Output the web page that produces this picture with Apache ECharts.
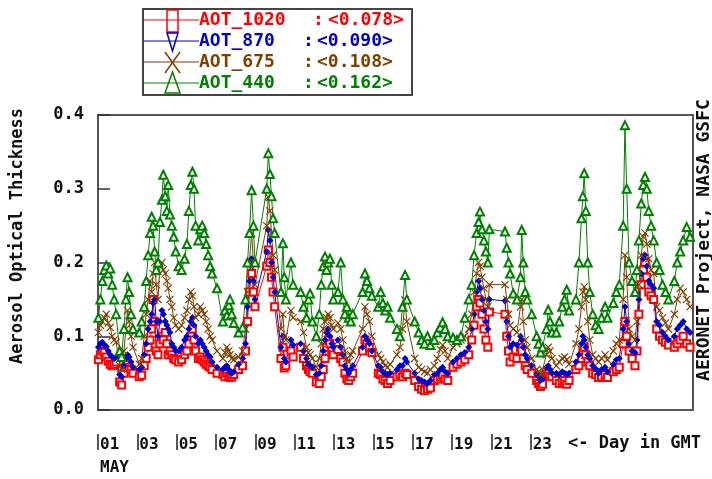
<!DOCTYPE html>
<html><head><meta charset="utf-8">
<script src="https://cdn.jsdelivr.net/npm/echarts@6/dist/echarts.min.js"></script>
<style>html,body{margin:0;padding:0;background:#fff}#c{width:712px;height:479px}</style>
</head><body><div id="c"></div>
<script>
// Days since 1 May 00:00 GMT
const days = [
0.02,0.12,0.22,0.32,0.42,0.52,0.62,0.72,0.82,0.92,
1.10,1.20,
1.32,1.42,1.50,1.58,1.68,1.78,
2.10,2.22,
2.35,2.45,2.55,2.65,2.73,2.80,2.88,2.96,
3.05,3.15,3.25,3.32,3.42,3.50,3.57,3.66,3.75,3.85,3.95,
4.10,4.25,4.40,
4.52,4.62,4.72,4.80,4.88,4.96,
5.10,5.20,5.30,5.40,5.50,5.60,5.70,5.80,
6.05,
6.35,6.45,6.55,6.65,6.71,6.80,6.90,
7.15,7.35,
7.50,7.60,7.70,7.81,7.90,7.98,
8.58,8.66,8.74,8.82,8.90,8.98,
9.30,9.40,9.47,9.55,
9.81,9.92,
10.30,10.45,10.60,10.70,10.78,10.90,
11.10,
11.25,11.35,11.45,11.54,11.62,11.70,11.79,11.88,11.96,
12.20,12.34,
12.45,12.55,12.65,12.75,12.85,12.95,
13.45,13.57,13.68,13.80,13.92,
14.25,14.37,14.48,14.60,14.72,14.85,
15.20,15.35,15.48,15.61,15.70,
16.10,16.30,16.45,16.60,16.75,16.90,
17.10,17.25,17.40,17.52,17.65,17.78,
18.05,18.25,18.45,18.65,18.85,
19.00,19.12,19.25,19.35,19.42,19.52,19.62,19.72,19.82,19.90,
20.69,20.78,20.87,20.95,
21.11,21.30,
21.48,21.54,21.62,21.72,21.82,
22.05,22.30,
22.40,22.50,22.60,
22.80,22.89,22.98,23.08,
23.30,23.45,23.60,23.72,23.83,23.95,
24.30,24.45,24.58,24.65,24.72,24.80,24.90,25.00,
25.15,25.30,25.45,25.60,25.78,25.90,
26.20,26.35,26.50,
26.70,26.79,26.88,
27.00,27.15,27.30,27.40,
27.50,27.62,27.72,27.81,27.90,28.00,28.12,28.25,
28.40,28.55,28.70,28.85,29.00,
29.30,29.45,29.60,29.75,29.93,30.10
];
const aot440 = [
.125,.150,.175,.190,.196,.185,.192,.170,.150,.130,
.080,.072,
.110,.150,.180,.160,.130,.110,
.105,.120,
.140,.175,.210,.240,.262,.250,.215,.190,
.200,.255,.285,.319,.290,.270,.305,.265,.250,.235,.215,
.195,.190,.205,
.225,.270,.305,.323,.300,.250,
.230,.245,.250,.240,.225,.210,.195,.185,
.165,
.120,.135,.128,.142,.150,.130,.118,
.105,.112,
.150,.200,.240,.298,.250,.200,
.300,.348,.320,.290,.260,.240,
.160,.226,.180,.150,
.200,.170,
.160,.140,.125,.150,.158,.120,
.100,
.130,.170,.195,.208,.190,.200,.205,.170,.150,
.160,.200,
.150,.130,.140,.125,.120,.130,
.160,.185,.175,.165,.155,
.140,.160,.145,.135,.140,.125,
.110,.100,.140,.183,.150,
.120,.105,.095,.090,.100,.088,
.095,.105,.112,.119,.110,.100,
.098,.095,.100,.125,.150,
.170,.210,.240,.255,.269,.245,.230,.215,.200,.245,
.242,.220,.200,.185,
.158,.150,
.180,.244,.200,.160,.150,
.130,.100,
.090,.078,.085,
.110,.136,.120,.105,
.105,.120,.140,.150,.163,.135,
.150,.200,.260,.290,.321,.270,.200,.160,
.130,.115,.110,.125,.140,.125,
.145,.160,.170,
.250,.386,.300,
.200,.175,.160,.190,
.230,.280,.305,.316,.300,.270,.250,.230,
.200,.190,.170,.160,.150,
.175,.200,.215,.230,.248,.235
];
const aot675 = [
.105,.115,.120,.125,.130,.118,.112,.100,.095,.092,
.060,.055,
.080,.110,.135,.120,.100,.085,
.062,.070,
.100,.130,.150,.175,.160,.185,.200,.170,
.150,.195,.200,.190,.185,.175,.165,.150,.140,.125,.115,
.110,.115,.125,
.135,.150,.160,.155,.140,.125,
.130,.140,.135,.130,.120,.110,.100,.095,
.080,
.070,.078,.085,.080,.075,.070,.068,
.072,.080,
.110,.160,.200,.240,.200,.170,
.250,.289,.270,.240,.210,.190,
.110,.130,.100,.095,
.135,.125,
.120,.105,.085,.078,.075,.070,
.058,
.070,.090,.110,.120,.125,.130,.125,.115,.110,
.118,.110,
.095,.080,.070,.065,.075,.080,
.110,.140,.130,.120,.100,
.075,.070,.065,.060,.058,.062,
.075,.085,.110,.149,.120,
.070,.058,.055,.052,.050,.055,
.060,.070,.082,.088,.080,.070,
.085,.090,.095,.100,.110,
.130,.160,.185,.200,.195,.180,.165,.150,.140,.170,
.170,.150,.130,.115,
.110,.105,
.140,.150,.120,.095,.085,
.070,.055,
.052,.048,.055,
.075,.085,.080,.070,
.060,.065,.070,.072,.068,.062,
.090,.110,.140,.160,.167,.150,.120,.095,
.075,.070,.065,.070,.075,.068,
.080,.090,.095,
.150,.210,.180,
.110,.100,.095,.120,
.170,.210,.235,.240,.225,.205,.190,.185,
.140,.135,.125,.118,.110,
.130,.150,.165,.160,.150,.140
];
const aot870 = [
.085,.090,.092,.088,.086,.080,.075,.072,.070,.072,
.048,.045,
.060,.070,.075,.072,.065,.058,
.055,.058,
.075,.090,.110,.120,.130,.145,.150,.120,
.100,.120,.135,.130,.120,.115,.110,.105,.090,.085,.080,
.080,.085,.095,
.100,.110,.120,.125,.115,.100,
.090,.095,.090,.085,.080,.075,.072,.065,
.058,
.055,.058,.060,.055,.052,.050,.052,
.062,.070,
.090,.140,.175,.205,.175,.150,
.215,.244,.230,.200,.180,.160,
.085,.100,.070,.065,
.095,.088,
.090,.080,.070,.062,.060,.058,
.048,
.050,.060,.080,.095,.105,.110,.100,.090,.085,
.095,.085,
.075,.060,.055,.050,.055,.060,
.085,.100,.095,.090,.080,
.060,.058,.052,.050,.048,.050,
.055,.060,.060,.070,.065,
.050,.042,.040,.038,.036,.040,
.048,.050,.055,.058,.052,.050,
.065,.070,.075,.078,.085,
.110,.130,.160,.175,.165,.150,.135,.120,.110,.150,
.148,.120,.100,.085,
.090,.088,
.100,.095,.085,.075,.070,
.060,.048,
.045,.040,.042,
.058,.060,.055,.050,
.050,.048,.052,.050,.048,.050,
.065,.075,.090,.100,.095,.085,.075,.070,
.060,.056,.050,.055,.058,.052,
.062,.068,.070,
.110,.140,.120,
.090,.080,.078,.095,
.150,.185,.205,.210,.195,.175,.170,.165,
.120,.115,.105,.100,.095,
.100,.110,.115,.120,.110,.105
];
const aot1020 = [
.068,.075,.080,.078,.072,.066,.062,.060,.062,.065,
.038,.034,
.050,.058,.062,.058,.055,.050,
.045,.047,
.060,.070,.085,.095,.110,.150,.120,.080,
.075,.090,.100,.095,.105,.090,.075,.080,.075,.070,.068,
.065,.068,.075,
.080,.090,.100,.110,.095,.080,
.070,.072,.068,.065,.062,.060,.058,.055,
.050,
.048,.045,.050,.046,.044,.045,.048,
.055,.060,
.080,.120,.160,.185,.160,.140,
.195,.217,.200,.180,.160,.140,
.070,.085,.057,.060,
.080,.072,
.085,.070,.060,.055,.052,.050,
.038,
.036,.045,.055,.070,.085,.095,.090,.080,.075,
.082,.070,
.065,.050,.042,.040,.045,.050,
.080,.095,.090,.085,.078,
.050,.048,.042,.040,.036,.040,
.045,.048,.045,.050,.048,
.040,.032,.028,.026,.028,.030,
.040,.042,.045,.048,.042,.040,
.058,.062,.065,.068,.075,
.095,.115,.140,.150,.145,.130,.110,.095,.085,.133,
.130,.100,.080,.065,
.072,.070,
.085,.080,.070,.060,.055,
.050,.040,
.036,.032,.035,
.048,.050,.046,.045,
.040,.036,.038,.040,.035,.040,
.055,.060,.070,.080,.085,.075,.065,.060,
.050,.048,.044,.045,.048,.044,
.052,.055,.058,
.090,.120,.100,
.080,.070,.060,.080,
.130,.170,.190,.200,.180,.160,.155,.150,
.110,.100,.095,.092,.088,
.085,.090,.095,.100,.090,.085
];
const seriesNames = ['AOT_1020','AOT_870','AOT_675','AOT_440'];
const seriesMeans = ['<0.078>','<0.090>','<0.108>','<0.162>'];
const xTickDays = [0,2,4,6,8,10,12,14,16,18,20,22];
const xTickLabels = ['01','03','05','07','09','11','13','15','17','19','21','23'];

const RED='#ff0000', BLUE='#0000cc', BROWN='#7f3f00', GREEN='#008000';
const FONT='DejaVu Sans Mono';
const xPath='path://M0,1L1,0L5,4L9,0L10,1L6,5L10,9L9,10L5,6L1,10L0,9L4,5Z';

function mk(vals){return days.map((d,i)=>[d,vals[i]]);}
const chart = echarts.init(document.getElementById('c'));
const legendY=[20,41,62,83], legendCol=[RED,BLUE,BROWN,GREEN];
const graphics=[
 {type:'rect',shape:{x:143,y:9,width:269,height:86},style:{fill:'#fff',stroke:'#444',lineWidth:2},z:10}
];
legendY.forEach((y,i)=>{
  graphics.push({type:'line',shape:{x1:144,y1:y,x2:199,y2:y},style:{stroke:legendCol[i],lineWidth:1.2},z:11});
  graphics.push({type:'text',x:199,y:y,style:{text:seriesNames[i],fill:legendCol[i],font:'bold 18px '+FONT,textAlign:'left',textVerticalAlign:'middle'},z:12});
  graphics.push({type:'text',x:i===0?313:303,y:y,style:{text:':',fill:legendCol[i],font:'bold 18px '+FONT,textAlign:'left',textVerticalAlign:'middle'},z:12});
  graphics.push({type:'text',x:i===0?328:317,y:y,style:{text:seriesMeans[i],fill:legendCol[i],font:'bold 18px '+FONT,textAlign:'left',textVerticalAlign:'middle'},z:12});
});
graphics.push({type:'rect',shape:{x:167,y:10,width:11,height:22},style:{fill:'none',stroke:RED,lineWidth:1.5},z:12});
graphics.push({type:'polygon',shape:{points:[[167,33],[178,33],[172.5,51]]},style:{fill:'none',stroke:BLUE,lineWidth:1.5},z:12});
graphics.push({type:'line',shape:{x1:165,y1:52,x2:180,y2:73},style:{stroke:BROWN,lineWidth:1.5},z:12});
graphics.push({type:'line',shape:{x1:180,y1:52,x2:165,y2:73},style:{stroke:BROWN,lineWidth:1.5},z:12});
graphics.push({type:'polygon',shape:{points:[[172.5,72],[165,93],[180,93]]},style:{fill:'none',stroke:GREEN,lineWidth:1.5},z:12});
graphics.push({type:'text',x:18,y:236,rotation:Math.PI/2,style:{text:'Aerosol Optical Thickness',fill:'#111',font:'bold 17px '+FONT,textAlign:'center',textVerticalAlign:'middle'}});
graphics.push({type:'text',x:704,y:240,rotation:Math.PI/2,style:{text:'AERONET Project, NASA GSFC',fill:'#111',font:'bold 18px '+FONT,textAlign:'center',textVerticalAlign:'middle'}});
graphics.push({type:'text',x:568,y:444,style:{text:'<- Day in GMT',fill:'#111',font:'bold 17px '+FONT,textAlign:'left',textVerticalAlign:'middle'}});
graphics.push({type:'text',x:100,y:468,style:{text:'MAY',fill:'#111',font:'bold 16px '+FONT,textAlign:'left',textVerticalAlign:'middle'}});

const option={
 animation:false,
 backgroundColor:'#fff',
 grid:{left:98,top:115,width:595,height:295,show:true,borderColor:'#555',borderWidth:2,containLabel:false,outerBoundsMode:'none'},
 xAxis:[
  {type:'value',min:0,max:30.25,axisLine:{show:false},axisTick:{show:false},axisLabel:{show:false},splitLine:{show:false}},
  {type:'value',min:0,max:30.25,position:'bottom',offset:24,
   axisLine:{show:false},splitLine:{show:false},
   axisTick:{show:true,customValues:xTickDays,length:16,inside:false,lineStyle:{color:'#222',width:1.5}},
   axisLabel:{show:true,customValues:xTickDays,margin:3,align:'left',verticalAlign:'top',padding:[0,0,0,2],
     formatter:v=>{const k=xTickDays.indexOf(v);return k>=0?xTickLabels[k]:'';},
     color:'#111',fontFamily:FONT,fontWeight:'bold',fontSize:16}}
 ],
 yAxis:{type:'value',min:0,max:0.4,interval:0.1,
   axisLine:{show:false},splitLine:{show:false},
   axisTick:{show:true,inside:true,length:12,lineStyle:{color:'#333',width:1.5}},
   axisLabel:{margin:14,formatter:v=>v.toFixed(1),color:'#111',fontFamily:FONT,fontWeight:'bold',fontSize:17}},
 series:[
  {name:'AOT_1020',type:'line',data:mk(aot1020),symbol:'emptyRect',symbolSize:7,showAllSymbol:true,
   lineStyle:{color:RED,width:1},itemStyle:{color:RED,borderWidth:1.6}},
  {name:'AOT_870',type:'line',data:mk(aot870),symbol:'diamond',symbolSize:7,showAllSymbol:true,
   lineStyle:{color:BLUE,width:1},itemStyle:{color:BLUE}},
  {name:'AOT_675',type:'line',data:mk(aot675),symbol:xPath,symbolSize:8,showAllSymbol:true,
   lineStyle:{color:BROWN,width:1},itemStyle:{color:BROWN}},
  {name:'AOT_440',type:'line',data:mk(aot440),symbol:'emptyTriangle',symbolSize:8,showAllSymbol:true,
   lineStyle:{color:GREEN,width:1},itemStyle:{color:GREEN,borderWidth:1.6}}
 ],
 graphic:graphics
};
chart.setOption(option);
</script>
</body></html>
